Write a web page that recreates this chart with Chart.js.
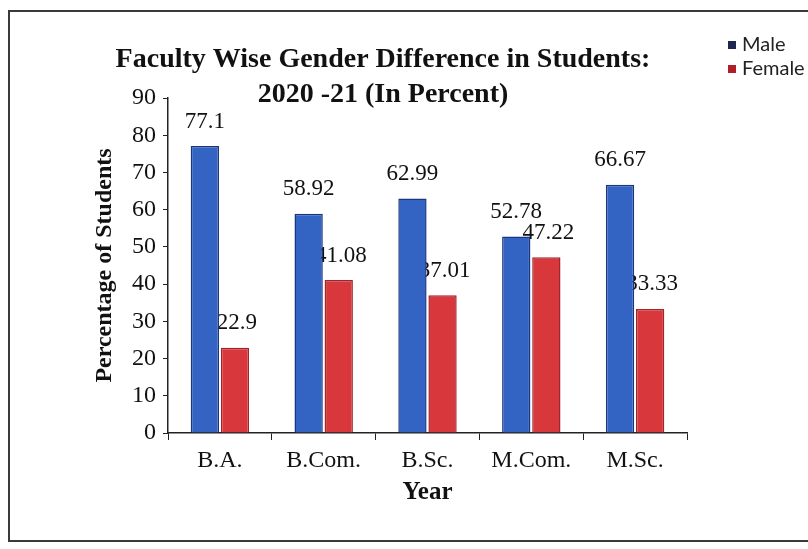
<!DOCTYPE html>
<html>
<head>
<meta charset="utf-8">
<script src="https://cdn.jsdelivr.net/npm/chart.js@4.4.1/dist/chart.umd.min.js"></script>
<style>
  html, body { margin: 0; padding: 0; background: #fff; overflow: hidden; }
  #frame {
    position: absolute; left: 8px; top: 10px; width: 840px; height: 532px;
    border: 2px solid #3a3a3a; box-sizing: border-box;
  }
  #wrap { position: absolute; left: 0; top: 0; width: 808px; height: 549px; }
</style>
</head>
<body>
<div id="frame"></div>
<div id="wrap"><canvas id="chart" width="808" height="549"></canvas></div>
<script>
// 📌 데이터
const faculties = ['B.A.', 'B.Com.', 'B.Sc.', 'M.Com.', 'M.Sc.'];
const maleValues = [77.1, 58.92, 62.99, 52.78, 66.67];
const femaleValues = [22.9, 41.08, 37.01, 47.22, 33.33];
const seriesNames = ['Male', 'Female'];
const titleLines = ['Faculty Wise Gender Difference in Students:', '2020 -21 (In Percent)'];
const yTitle = 'Percentage of Students';
const xTitle = 'Year';

const SERIF = '"Liberation Serif", "Times New Roman", serif';

// 📌 막대 위 값 라벨 (Female 라벨은 Male 막대보다 먼저 그림)
function drawValueLabels(chart, dsIndex) {
  const ctx = chart.ctx;
  const meta = chart.getDatasetMeta(dsIndex);
  const values = chart.data.datasets[dsIndex].data;
  ctx.save();
  ctx.font = '23px ' + SERIF;
  ctx.fillStyle = '#111';
  ctx.textAlign = 'center';
  ctx.textBaseline = 'bottom';
  meta.data.forEach((bar, i) => {
    ctx.fillText(String(values[i]), bar.x + dsIndex * 2, bar.y - 13);
  });
  ctx.restore();
}

const valueLabelPlugin = {
  id: 'valueLabels',
  beforeDatasetDraw(chart, args) {
    if (args.index === 0) drawValueLabels(chart, 1);
  },
  afterDatasetsDraw(chart) {
    drawValueLabels(chart, 0);
  }
};

// 📌 제목 + 범례
const headerPlugin = {
  id: 'header',
  afterDraw(chart) {
    const ctx = chart.ctx;
    ctx.save();
    ctx.fillStyle = '#111';
    ctx.font = 'bold 28px ' + SERIF;
    ctx.textAlign = 'center';
    ctx.textBaseline = 'middle';
    ctx.fillText(titleLines[0], 383, 60);
    ctx.fillText(titleLines[1], 383, 95);

    ctx.font = '20px Lato, "Open Sans", sans-serif';
    ctx.textAlign = 'left';
    chart.data.datasets.forEach((ds, i) => {
      const y = 45 + i * 24;
      ctx.fillStyle = ds.legendColor;
      ctx.fillRect(728, y - 4, 8, 8);
      ctx.fillStyle = '#222';
      ctx.fillText(ds.label, 742, y);
    });
    ctx.restore();
  }
};

new Chart(document.getElementById('chart'), {
  type: 'bar',
  data: {
    labels: faculties,
    datasets: [
      {
        label: seriesNames[0],
        data: maleValues,
        backgroundColor: '#3363c3',
        borderColor: '#1c3580',
        legendColor: '#1f2650',
        borderWidth: 1.5,
        borderSkipped: 'bottom'
      },
      {
        label: seriesNames[1],
        data: femaleValues,
        backgroundColor: '#d8383c',
        borderColor: '#a3232a',
        legendColor: '#b01e26',
        borderWidth: 1.5,
        borderSkipped: 'bottom'
      }
    ]
  },
  options: {
    responsive: false,
    animation: false,
    devicePixelRatio: 1,
    layout: { padding: { left: 86, right: 121, top: 98, bottom: 37 } },
    categoryPercentage: 0.58,
    barPercentage: 0.94,
    plugins: {
      legend: { display: false },
      title: { display: false },
      tooltip: { enabled: false }
    },
    scales: {
      x: {
        afterFit(scale) { scale.height = 79; },
        grid: { drawOnChartArea: false, drawTicks: true, tickLength: 7, color: '#222', offset: true },
        border: { color: '#222', width: 1.5 },
        ticks: { color: '#111', font: { family: SERIF, size: 24 }, padding: 6 },
        title: { display: true, text: xTitle, color: '#111', font: { family: SERIF, size: 25, weight: 'bold' }, padding: { top: 0 } }
      },
      y: {
        min: 0,
        max: 90,
        afterFit(scale) { scale.width = 82; },
        grid: { drawOnChartArea: false, drawTicks: true, tickLength: 5, color: '#222' },
        border: { color: '#222', width: 1.5 },
        ticks: { stepSize: 10, color: '#111', font: { family: SERIF, size: 24 }, padding: 7 },
        title: { display: true, text: yTitle, color: '#111', font: { family: SERIF, size: 24, weight: 'bold' }, padding: { top: 4, bottom: 4 } }
      }
    }
  },
  plugins: [valueLabelPlugin, headerPlugin]
});
</script>
</body>
</html>
